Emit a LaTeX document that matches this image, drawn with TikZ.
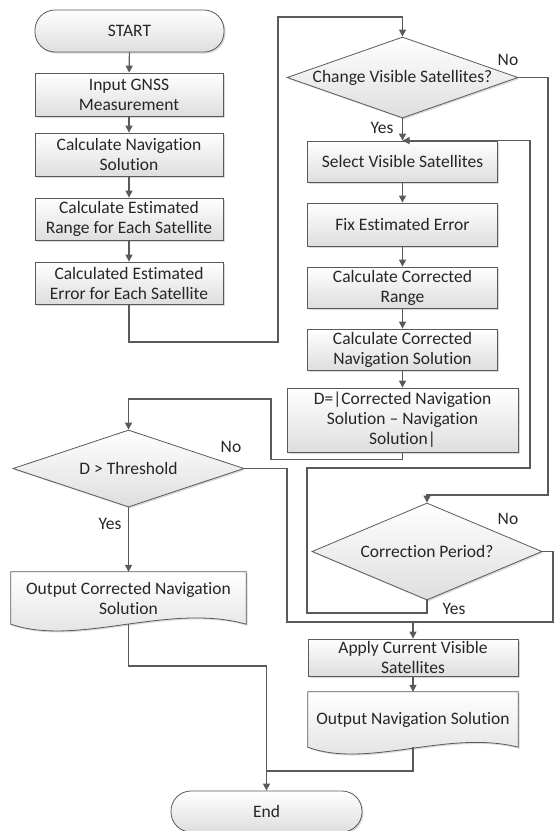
\documentclass[tikz,border=0pt]{standalone}
\usepackage{fontspec}
\setmainfont{Carlito}[Ligatures=NoCommon]
\usetikzlibrary{arrows.meta,shapes.geometric,shadows,backgrounds}
\definecolor{linegray}{RGB}{90,90,90}
\definecolor{boxgray}{RGB}{222,222,222}

\begin{document}
\begin{tikzpicture}[x=1pt,y=-1pt,
		font=\fontsize{17.5}{20}\selectfont,
		wire/.style={draw=linegray,line width=1.1pt},
		flow/.style={wire,-{Triangle[length=7pt,width=7pt]}},
		boxfill/.style={top color=white,bottom color=boxgray,drop shadow={shadow xshift=1.5pt,shadow yshift=-1.5pt,opacity=0.3}},
		procbox/.style={rectangle,draw=linegray,line width=0.8pt,boxfill,inner sep=2pt,align=center,text=black!85},
		termbox/.style={procbox,rounded corners=20pt},
		decbox/.style={diamond,draw=linegray,line width=0.8pt,boxfill,inner sep=0pt,align=center,text=black!85},
		docbox/.style={rectangle,inner sep=2pt,align=center,text=black!85},
		docshape/.style={draw=linegray,line width=0.8pt,boxfill},
		lbl/.style={text=black!85}]
		\useasboundingbox (0,0) rectangle (554,831); % page

		% left column
		\node [termbox,minimum width=189pt,minimum height=42pt] (start) at (129.5,31) {START};
		\node [procbox,minimum width=188pt,minimum height=43pt] (input) at (129,94.5) {Input GNSS\\Measurement};
		\node [procbox,minimum width=188pt,minimum height=43pt] (navsol) at (129,154.5) {Calculate Navigation\\Solution};
		\node [procbox,minimum width=188pt,minimum height=42pt] (estrange) at (129,219) {Calculate Estimated\\Range for Each Satellite};
		\node [procbox,minimum width=188pt,minimum height=42pt] (esterr) at (129,283) {Calculated Estimated\\Error for Each Satellite};

		% right column
		\node [decbox,minimum width=231pt,minimum height=81pt,aspect=2.85] (chgvis) at (402.5,77.5) {Change Visible Satellites?};
		\node [procbox,minimum width=190pt,minimum height=41pt] (selvis) at (402.5,161.5) {Select Visible Satellites};
		\node [procbox,minimum width=190pt,minimum height=43pt] (fixerr) at (402.5,224.5) {Fix Estimated Error};
		\node [procbox,minimum width=190pt,minimum height=41pt] (corrrange) at (402.5,287.5) {Calculate Corrected\\Range};
		\node [procbox,minimum width=190pt,minimum height=41pt] (corrnav) at (402.5,349.5) {Calculate Corrected\\Navigation Solution};
		\node [procbox,minimum width=231pt,minimum height=64pt] (dval) at (402.5,420) {D=|Corrected Navigation\\Solution – Navigation\\Solution|};

		% lower part
		\node [decbox,minimum width=231pt,minimum height=77pt,aspect=3] (thresh) at (128.5,468.5) {D > Threshold};
		\node [docbox,minimum width=235pt,minimum height=52pt] (outcorr) at (128.5,598) {Output Corrected Navigation\\Solution};
		\node [decbox,minimum width=230pt,minimum height=97pt,aspect=2.37] (corrper) at (427,551.5) {Correction Period?};
		\node [procbox,minimum width=210pt,minimum height=37pt] (applyvis) at (413,657.5) {Apply Current Visible\\Satellites};
		\node [docbox,minimum width=210pt,minimum height=55pt] (outnav) at (413,719.5) {Output Navigation Solution};
		\node [termbox,minimum width=191pt,minimum height=41pt] (fin) at (266.5,811.5) {End};

		% wavy bottoms
		\begin{scope}[on background layer]
		\draw [docshape] (outcorr.south west) -- (outcorr.north west) -- (outcorr.north east) -- (outcorr.south east) .. controls +(-78,-22) and +(67,23) .. (outcorr.south west) -- cycle;
		\draw [docshape] (outnav.south west) -- (outnav.north west) -- (outnav.north east) -- (outnav.south east) .. controls +(-70,-18) and +(60,22) .. (outnav.south west) -- cycle;
		\end{scope}

		% yes / no
		\node [lbl] (chgno) at (508,60) {No};
		\node [lbl] (chgyes) at (382,128) {Yes};
		\node [lbl] (thrno) at (231,447) {No};
		\node [lbl] (thryes) at (110,524) {Yes};
		\node [lbl] (perno) at (508,519) {No};
		\node [lbl] (peryes) at (454,609) {Yes};

		% bends
		\coordinate (errdown) at (278,342);
		\coordinate (errtop) at (278,17);
		\coordinate (noturn) at (548,495);
		\coordinate (dturn) at (271,399);
		\coordinate (mergeL) at (287,622);
		\coordinate (mergeR) at (553,622);
		\coordinate (yesA) at (307,613);
		\coordinate (yesB) at (530,468);
		\coordinate (joinC) at (266.5,666);
		\coordinate (joinE) at (266.5,771);

		\draw [flow] (start) -- (input);
		\draw [flow] (input) -- (navsol);
		\draw [flow] (navsol) -- (estrange);
		\draw [flow] (estrange) -- (esterr);
		\draw [flow] (esterr.south) |- (errdown) -- (errtop) -| (chgvis.north);
		\draw [flow] (chgvis.south) -- (selvis.north);
		\draw [flow] (chgvis.east) -| (noturn) -| (corrper.north);
		\draw [flow] (selvis) -- (fixerr);
		\draw [flow] (fixerr) -- (corrrange);
		\draw [flow] (corrrange) -- (corrnav);
		\draw [flow] (corrnav) -- (dval);
		\draw [flow] (dval.south) -- ++(0,7) -| (dturn) -| (thresh.north);
		\draw [flow] (thresh.south) -- (outcorr.north);
		\draw [wire] (thresh.east) -| (mergeL) -- (mergeR) |- (corrper.east);
		\draw [flow] (applyvis.north |- mergeL) -- (applyvis.north);
		\draw [flow] (corrper.south) |- (yesA) |- (yesB) |- (selvis.north);
		\draw [flow] (applyvis) -- (outnav);
		\draw [flow] (outnav.south) |- (joinE) -- (fin.north);
		\draw [wire] (outcorr.south) |- (joinC) -- (joinE);
\end{tikzpicture}
\end{document}
